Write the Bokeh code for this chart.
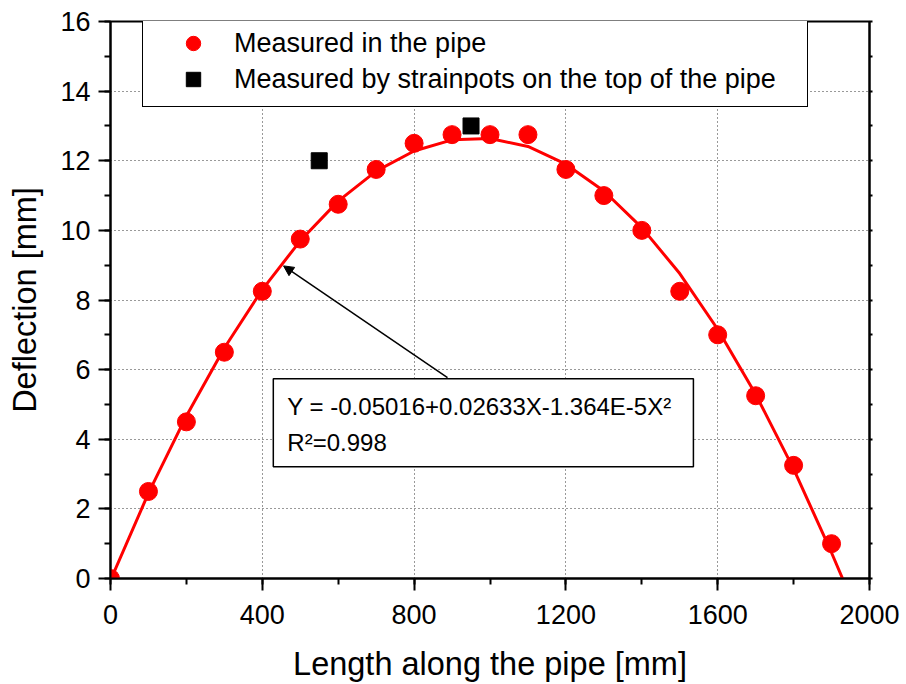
from bokeh.plotting import figure
from bokeh.models import (LinearAxis, SingleIntervalTicker, Legend, LegendItem,
                          BoxAnnotation, Label, Arrow, NormalHead, Range1d)
from bokeh.embed import file_html
from bokeh.resources import INLINE

# ---- data ----
pipe_x = [0, 100, 200, 300, 400, 500, 600, 700, 800, 900, 1000, 1100, 1200,
          1300, 1400, 1500, 1600, 1700, 1800, 1900]
pipe_y = [0.0, 2.5, 4.5, 6.5, 8.25, 9.75, 10.75, 11.75, 12.5, 12.75, 12.75,
          12.75, 11.75, 11.0, 10.0, 8.25, 7.0, 5.25, 3.25, 1.0]

pot_x = [550, 950]
pot_y = [12.0, 13.0]

fit_x = [2, 100, 200, 300, 400, 500, 600, 700, 800, 900, 1000, 1100, 1200,
         1300, 1400, 1500, 1600, 1700, 1800, 1900, 1929]
fit_y = [0.0, 2.45, 4.67, 6.62, 8.30, 9.70, 10.84, 11.70, 12.28, 12.60, 12.64,
         12.41, 11.90, 11.13, 10.08, 8.76, 7.16, 5.29, 3.15, 0.74, 0.0]

x_label = "Length along the pipe [mm]"
y_label = "Deflection [mm]"
legend_labels = ["Measured in the pipe",
                 "Measured by strainpots on the top of the pipe"]
eq_text = "Y = -0.05016+0.02633X-1.364E-5X\u00b2"
r2_text = "R\u00b2=0.998"

FONT = "Liberation Sans"

p = figure(width=906, height=684, x_range=Range1d(0, 2000), y_range=Range1d(0, 16),
           output_backend="svg", toolbar_location=None,
           min_border_left=110, min_border_right=37, min_border_top=21,
           min_border_bottom=106, x_axis_label=x_label, y_axis_label=y_label)

p.background_fill_color = "white"
p.border_fill_color = "white"
p.outline_line_color = "black"
p.outline_line_width = 2

xt = SingleIntervalTicker(interval=400, num_minor_ticks=2)
yt = SingleIntervalTicker(interval=2, num_minor_ticks=2)
p.xaxis.ticker = xt
p.yaxis.ticker = yt
p.xgrid.ticker = xt
p.ygrid.ticker = yt

for ax in (p.xaxis[0], p.yaxis[0]):
    ax.axis_line_width = 2
    ax.axis_line_color = "black"
    ax.major_tick_line_width = 2
    ax.minor_tick_line_width = 2
    ax.major_tick_line_color = "black"
    ax.minor_tick_line_color = "black"
    ax.major_tick_out = 12
    ax.major_tick_in = 0
    ax.minor_tick_out = 6
    ax.minor_tick_in = 0
    ax.major_label_text_font = FONT
    ax.major_label_text_font_size = "27px"
    ax.major_label_text_color = "black"
    ax.axis_label_text_font = FONT
    ax.axis_label_text_font_size = "32.5px"
    ax.axis_label_text_font_style = "normal"
    ax.axis_label_text_color = "black"

p.yaxis.major_label_standoff = 8
p.yaxis.axis_label_standoff = 14
p.xaxis.major_label_standoff = 14
p.xaxis.axis_label_standoff = 19

right_ax = LinearAxis(ticker=SingleIntervalTicker(interval=1, num_minor_ticks=0),
                      axis_line_width=2, major_tick_line_width=2,
                      major_tick_out=3, major_tick_in=0, minor_tick_out=0,
                      major_label_text_color=None)
p.add_layout(right_ax, "right")

p.grid.grid_line_color = "#333333"
p.grid.grid_line_dash = "1 3"
p.grid.grid_line_width = 1

p.line(fit_x, fit_y, line_color="red", line_width=3)
c = p.scatter(pipe_x, pipe_y, marker="circle", size=18, color="red")
s = p.scatter(pot_x, pot_y, marker="square", size=16, color="black")

legend = Legend(items=[LegendItem(label=legend_labels[0], renderers=[c]),
                       LegendItem(label=legend_labels[1], renderers=[s])],
                location=(32, 471), padding=9, glyph_height=36, glyph_width=82,
                label_standoff=0, spacing=0, label_width=564, margin=0,
                label_text_font=FONT, label_text_font_size="27px",
                label_text_color="black",
                border_line_color="black", border_line_width=1.5,
                border_line_alpha=1,
                background_fill_color="white", background_fill_alpha=1)
p.add_layout(legend)

box = BoxAnnotation(left=429, right=1536, bottom=3.21, top=5.74,
                    fill_color="white", fill_alpha=1,
                    line_color="black", line_width=1.5, line_alpha=1)
p.add_layout(box)
p.add_layout(Label(x=466, y=4.94, text=eq_text, text_font=FONT,
                   text_font_size="24px", text_baseline="middle",
                   text_color="black"))
p.add_layout(Label(x=466, y=3.91, text=r2_text, text_font=FONT,
                   text_font_size="24px", text_baseline="middle",
                   text_color="black"))
p.add_layout(Arrow(end=NormalHead(size=10, fill_color="black", line_color="black",
                                  line_width=1),
                   x_start=888, y_start=5.77, x_end=456, y_end=8.98,
                   line_width=1.5, line_color="black"))

open("out.html", "w").write(file_html(p, INLINE))
